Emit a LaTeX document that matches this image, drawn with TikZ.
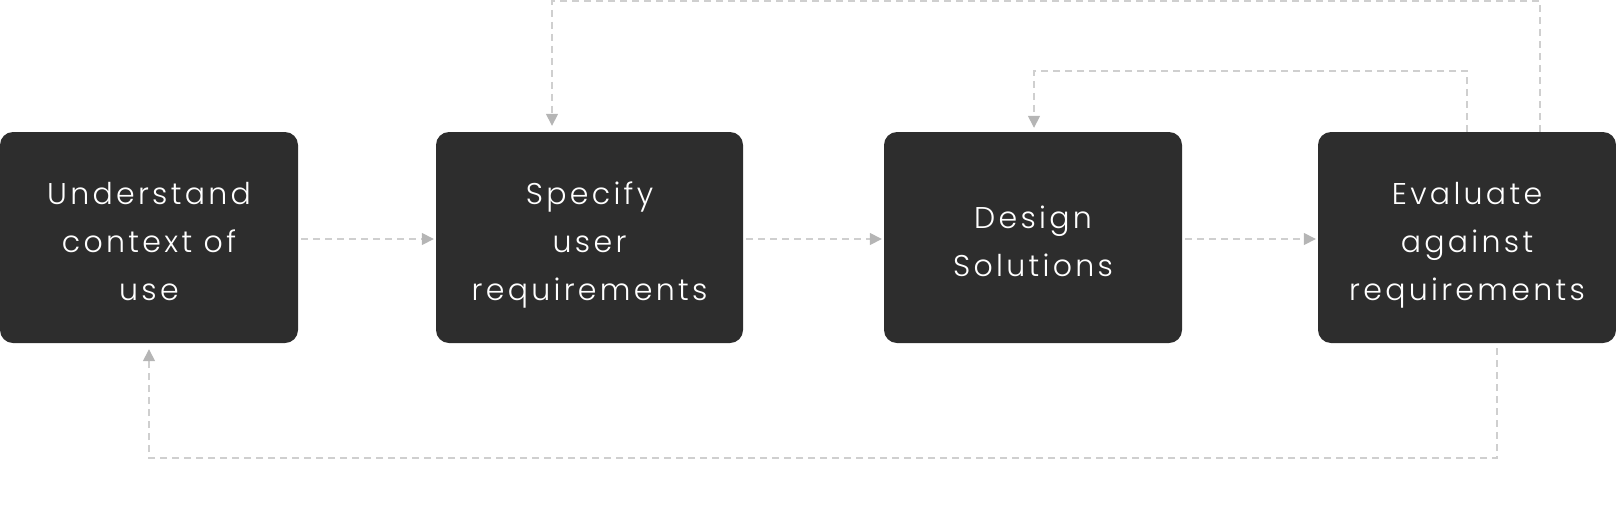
\documentclass[tikz,border=0pt]{standalone}
\usepackage{fontspec}
\setmainfont{Poppins}[UprightFont=* Light, LetterSpace=11]
\usetikzlibrary{arrows.meta}
\definecolor{boxfill}{HTML}{2D2D2D}
\definecolor{linegray}{HTML}{CFCFCF}
\definecolor{tipgray}{HTML}{B5B5B5}
\newcommand{\lnstrut}{\rule[-9pt]{0pt}{48pt}}
\tikzset{
  stepbox/.style={fill=boxfill, rounded corners=13pt, minimum height=211pt,
    text=white, align=center, inner sep=0pt,
    font=\fontsize{30pt}{48pt}\selectfont},
  conn/.style={draw=linegray, line width=1.5pt, dash pattern=on 7pt off 5pt,
    -{Triangle[length=12pt,width=12pt,color=tipgray]}},
}
\begin{document}
\begin{tikzpicture}[x=1pt,y=-1pt]
\useasboundingbox (0,0) rectangle (1616,512);
\node[stepbox, minimum width=298pt] (b1) at (149,237.5) {\lnstrut Understand\\\lnstrut context of\\\lnstrut use};
\node[stepbox, minimum width=307pt] (b2) at (589.5,237.5) {\lnstrut Specify\\\lnstrut user\\\lnstrut requirements};
\node[stepbox, minimum width=298pt] (b3) at (1033,237.5) {\lnstrut Design\\\lnstrut Solutions};
\node[stepbox, minimum width=298pt] (b4) at (1467,237.5) {\lnstrut Evaluate\\\lnstrut against\\\lnstrut requirements};
\draw[conn] ([xshift=3pt,yshift=-1.5pt]b1.east) -- ([xshift=-2pt,yshift=-1.5pt]b2.west);
\draw[conn] ([xshift=3pt,yshift=-1.5pt]b2.east) -- ([xshift=-2pt,yshift=-1.5pt]b3.west);
\draw[conn] ([xshift=3pt,yshift=-1.5pt]b3.east) -- ([xshift=-2pt,yshift=-1.5pt]b4.west);
\draw[conn] ([xshift=73pt]b4.north) -- ++(0,-131) -| ([xshift=-37.5pt,yshift=6pt]b2.north);
\draw[conn] (b4.north) -- ++(0,-61) -| ([xshift=1pt,yshift=4pt]b3.north);
\draw[conn] ([xshift=30pt,yshift=-5pt]b4.south) -- ++(0,110) -| ([yshift=-6pt]b1.south);
\end{tikzpicture}
\end{document}
